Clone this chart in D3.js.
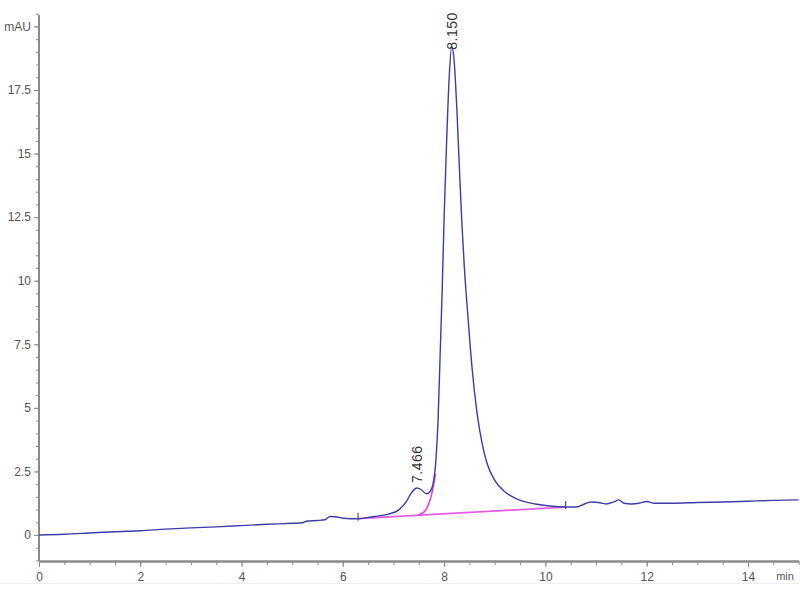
<!DOCTYPE html>
<html><head><meta charset="utf-8">
<script src="https://cdn.jsdelivr.net/npm/d3@7"></script>
<style>body{margin:0;background:#fff}svg{display:block}text{font-family:"Liberation Sans",Arial,sans-serif}</style>
</head><body>
<svg id="c" width="800" height="600"></svg>
<script>
const times = [0,0.5,1,1.5,2,2.5,3,3.5,4,4.5,5,5.2,5.3,5.5,5.65,5.75,5.85,6.0,6.3,6.6,6.9,7.1,7.25,7.35,7.466,7.55,7.65,7.72,7.78,7.84,7.88,7.92,7.96,8.0,8.05,8.1,8.15,8.2,8.25,8.3,8.35,8.4,8.47,8.55,8.65,8.75,8.85,9.0,9.2,9.4,9.6,9.8,10.0,10.2,10.4,10.6,10.75,10.9,11.05,11.2,11.35,11.45,11.55,11.7,11.85,12.0,12.15,12.5,13,13.5,14,14.5,15];
const signal = [0,0.03,0.08,0.13,0.17,0.23,0.28,0.32,0.37,0.42,0.46,0.48,0.55,0.57,0.6,0.73,0.72,0.66,0.64,0.72,0.82,0.98,1.3,1.65,1.85,1.78,1.62,1.7,2.0,3.0,4.5,7.0,9.5,12.5,15.5,18.0,19.2,18.6,16.8,14.5,12.3,10.5,8.6,6.6,4.8,3.6,2.8,2.15,1.7,1.45,1.3,1.22,1.16,1.12,1.1,1.1,1.2,1.3,1.28,1.22,1.3,1.38,1.25,1.22,1.25,1.32,1.25,1.25,1.28,1.3,1.33,1.36,1.38];
const baselineT = [6.3,10.4];
const baselineV = [0.64,1.1];
const skimT = [7.5,7.6,7.68,7.74,7.79,7.83];
const skimV = [0.8,0.9,1.15,1.5,1.95,2.4];
const peakT = [7.466,8.150];
const peakV = [1.85,19.2];
const peakLabels = ["7.466","8.150"];
const xTicks = [0,2,4,6,8,10,12,14];
const yTicks = [0,2.5,5,7.5,10,12.5,15,17.5];

const svg = d3.select("#c");
const x = d3.scaleLinear().domain([0,15]).range([39,798.6]);
const y = d3.scaleLinear().domain([0,17.5]).range([535,90]);
const axisCol = "#8a8a8a", textCol = "#555";

svg.append("line").attr("x1",0).attr("x2",800).attr("y1",583.5).attr("y2",583.5).attr("stroke","#eee");

// x axis
const gx = svg.append("g").attr("transform","translate(0,561)");
gx.call(d3.axisBottom(x).tickValues(d3.range(0,15.01,0.5)).tickSize(4).tickFormat("").tickSizeOuter(0));
gx.append("g").call(d3.axisBottom(x).tickValues(xTicks).tickSize(6).tickFormat(d3.format("d")).tickSizeOuter(0));
gx.selectAll("path.domain").attr("stroke",axisCol).attr("stroke-width",2);
gx.selectAll("line").attr("stroke",axisCol);
gx.selectAll("text").attr("fill",textCol).attr("font-size",12).attr("dy","0.9em");
gx.append("text").attr("x",785).attr("y",19).attr("text-anchor","middle").attr("fill",textCol).attr("font-size",11).text("min");

// y axis
const gy = svg.append("g").attr("transform","translate(39,0)");
gy.call(d3.axisLeft(y).tickValues(d3.range(-1,20.51,0.5)).tickSize(3).tickFormat("").tickSizeOuter(0));
gy.append("g").call(d3.axisLeft(y).tickValues(yTicks).tickSize(5).tickFormat(d=>d).tickSizeOuter(0));
gy.append("g").call(d3.axisLeft(y).tickValues([20]).tickSize(5).tickFormat(()=>"mAU").tickSizeOuter(0));
gy.selectAll("path.domain").remove();
gy.append("line").attr("x1",0).attr("x2",0).attr("y1",15).attr("y2",561).attr("stroke",axisCol).attr("stroke-width",2);
gy.selectAll("line").attr("stroke",axisCol);
gy.selectAll("text").attr("fill",textCol).attr("font-size",12);

// baseline and skim (pink)
const lineC = d3.line().curve(d3.curveMonotoneX).x(d=>x(d[0])).y(d=>y(d[1]));
svg.append("path").attr("d",lineC(baselineT.map((t,i)=>[t,baselineV[i]])))
  .attr("fill","none").attr("stroke","#e040e0").attr("stroke-width",1.8).attr("opacity",0.85);
svg.append("path").attr("d",lineC(skimT.map((t,i)=>[t,skimV[i]])))
  .attr("fill","none").attr("stroke","#e040e0").attr("stroke-width",1.6);
baselineT.forEach((t,i)=>{
  svg.append("line").attr("x1",x(t)).attr("x2",x(t)).attr("y1",y(baselineV[i])-6).attr("y2",y(baselineV[i])+2)
    .attr("stroke","#333").attr("stroke-width",1);
});

// signal
svg.append("path")
  .attr("d",lineC(times.map((t,i)=>[t,signal[i]])))
  .attr("fill","none").attr("stroke","#3c3ca8").attr("stroke-width",1.4);

// peak labels
const labelOffset = [-5, 3];
peakT.forEach((t,i)=>{
  const px = x(t), py = y(peakV[i]) + labelOffset[i];
  svg.append("text").attr("transform",`translate(${px+5},${py})rotate(-90)`)
    .attr("text-anchor","start").attr("fill","#333").attr("font-size",14).attr("letter-spacing",0.5).text(peakLabels[i]);
});
</script>
</body></html>
